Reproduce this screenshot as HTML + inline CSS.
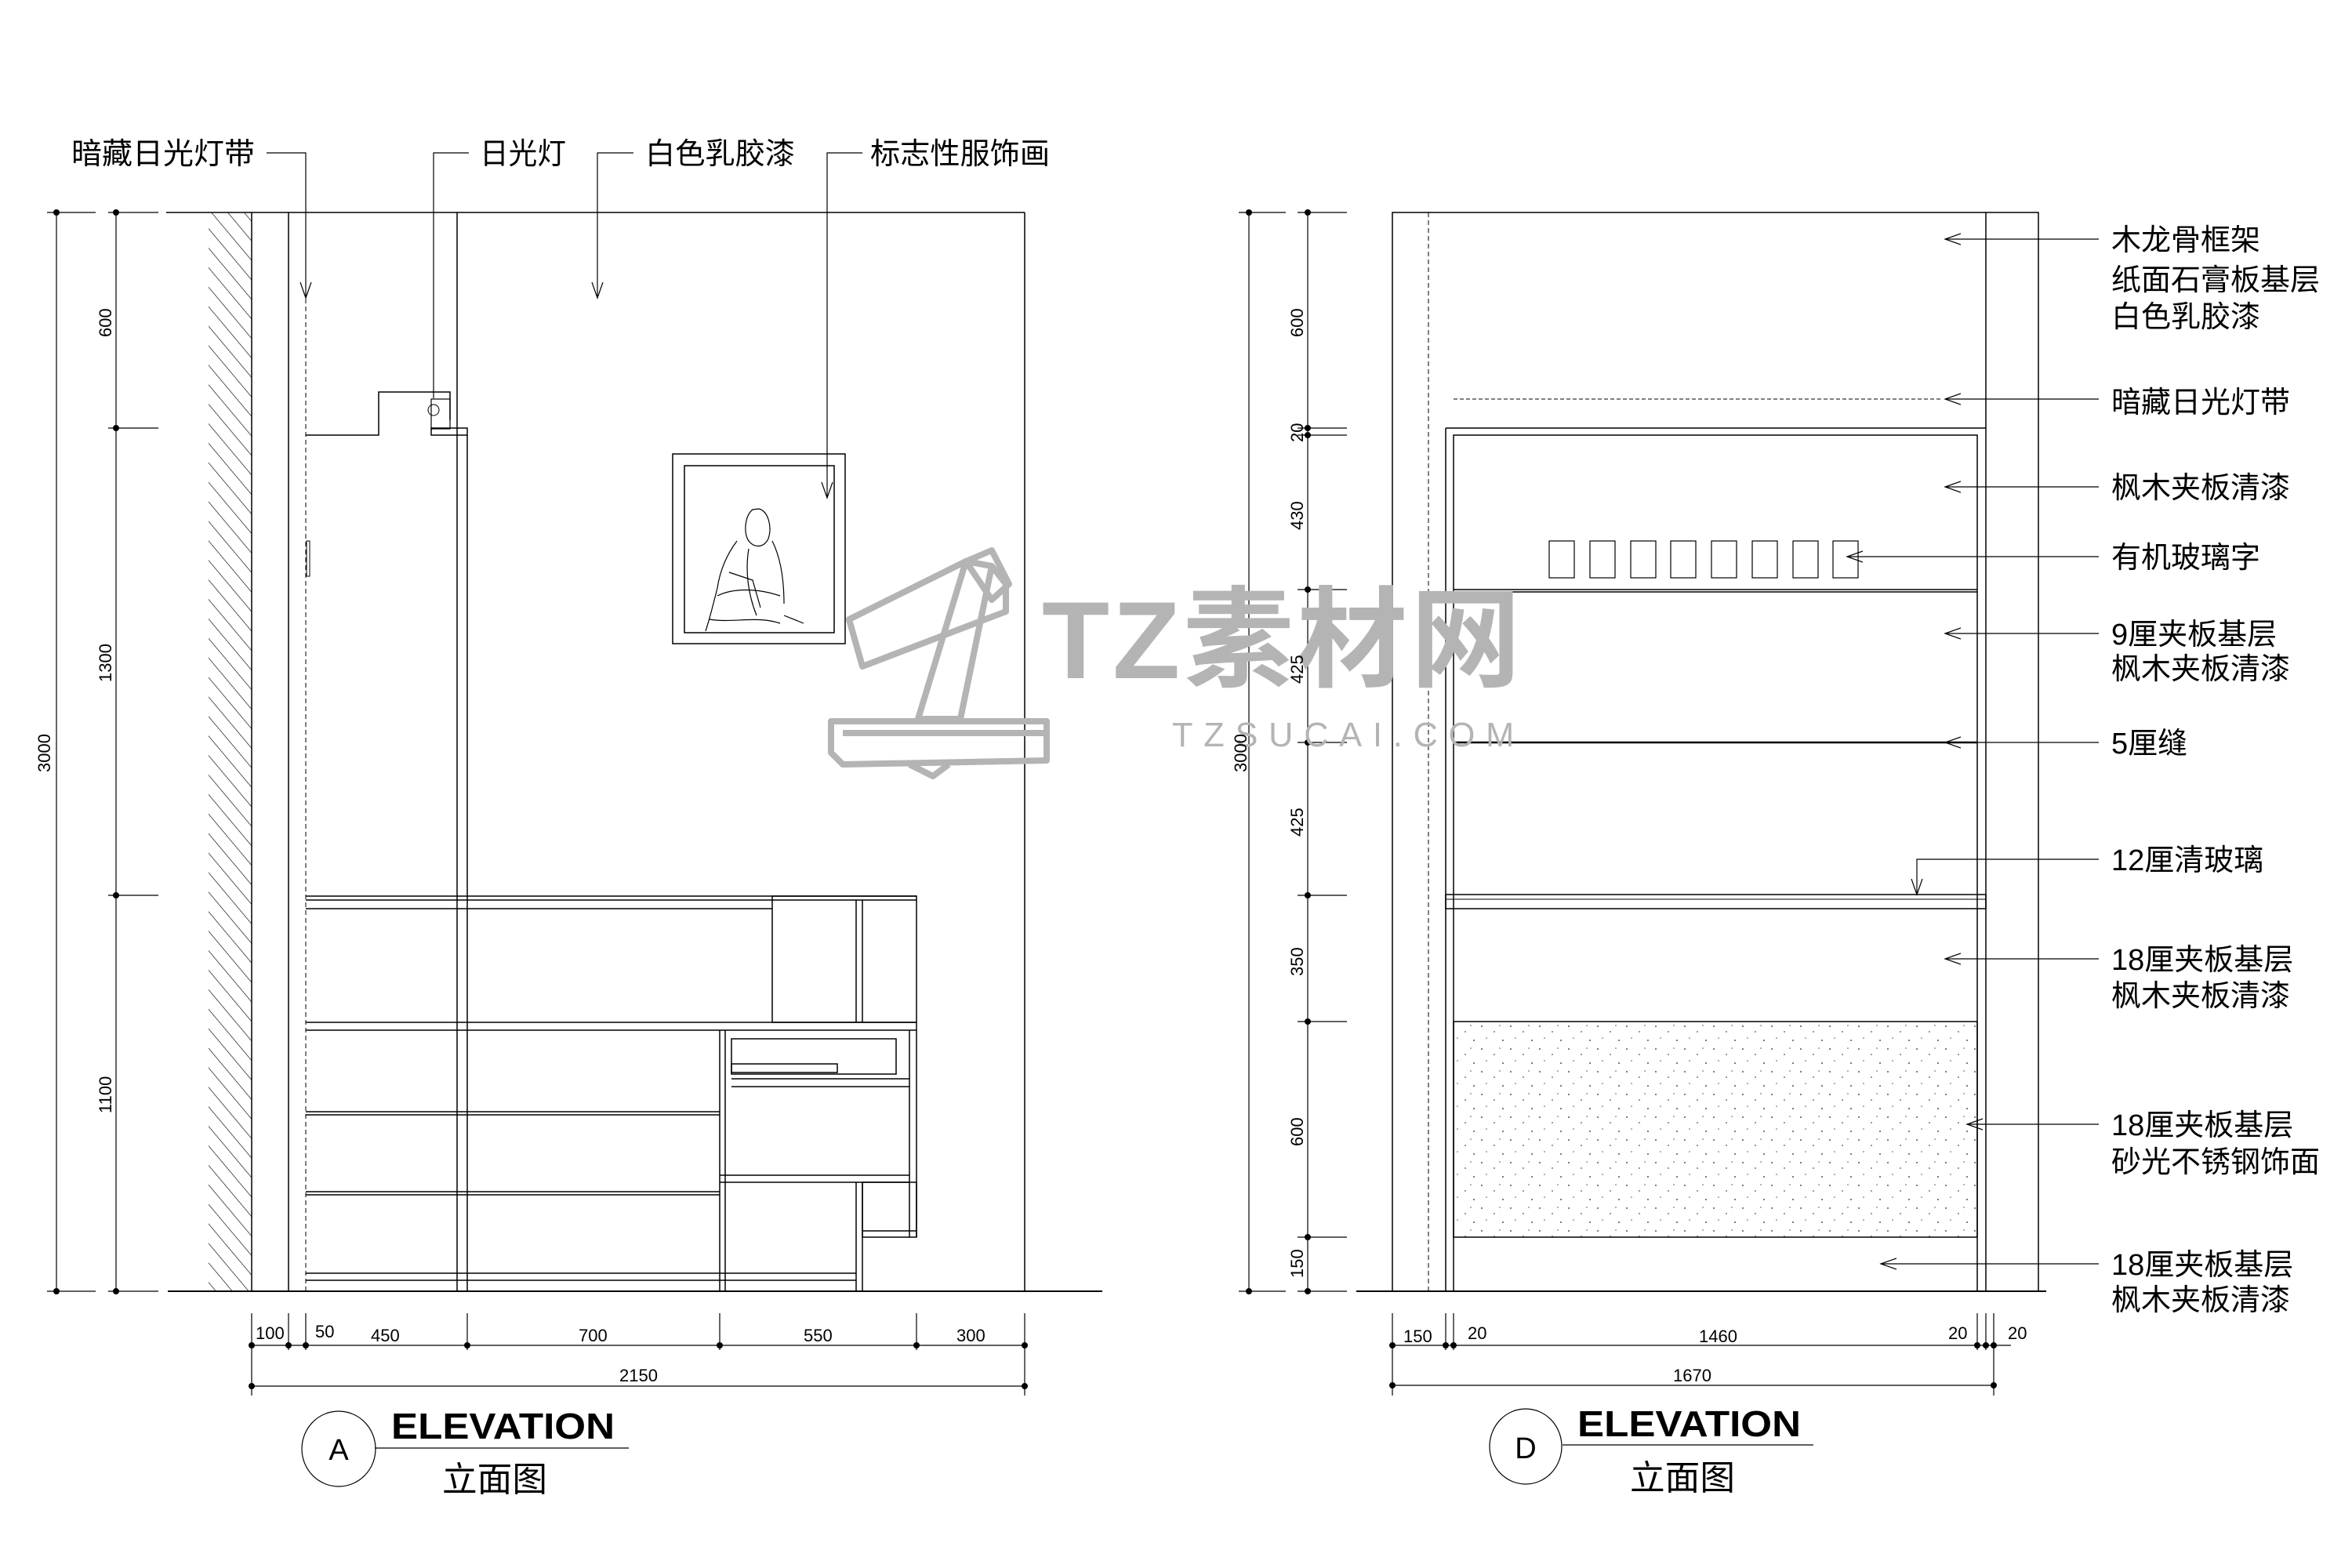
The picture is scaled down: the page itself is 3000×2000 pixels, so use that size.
<!DOCTYPE html>
<html><head><meta charset="utf-8"><style>
html,body{margin:0;padding:0;background:#fff;}
svg{display:block}
text{font-family:"Liberation Sans","Noto Sans CJK SC",sans-serif;fill:#000}
.cn{font-size:38px}
.d{font-size:22px}
</style></head><body>
<svg width="3000" height="2000" viewBox="0 0 3000 2000" xmlns="http://www.w3.org/2000/svg">
<defs>
<pattern id="hatch" width="16" height="16" patternUnits="userSpaceOnUse" patternTransform="rotate(-40)">
<line x1="0" y1="0" x2="0" y2="16" stroke="#000" stroke-width="1.3"/></pattern>
<pattern id="dots" width="37" height="29" patternUnits="userSpaceOnUse">
<circle cx="3" cy="4" r="1" fill="#555"/><circle cx="19" cy="11" r="0.9" fill="#555"/><circle cx="30" cy="22" r="1" fill="#555"/><circle cx="9" cy="19" r="0.8" fill="#555"/><circle cx="26" cy="3" r="0.8" fill="#555"/></pattern>
<marker id="ar" markerWidth="30" markerHeight="30" refX="20" refY="10" orient="auto" markerUnits="userSpaceOnUse" viewBox="0 0 30 20">
<path d="M0,3 L20,10 L0,17" fill="none" stroke="#000" stroke-width="1.2"/></marker>
</defs>
<g fill="none" stroke="#000" stroke-width="1.5">
<!-- ===== LEFT ELEVATION ===== -->
<rect x="266" y="271" width="55" height="1376" fill="url(#hatch)" stroke="none"/>
<line x1="212" y1="271" x2="1307" y2="271"/>
<line x1="321" y1="271" x2="321" y2="1647"/>
<line x1="368" y1="271" x2="368" y2="1647"/>
<line x1="390" y1="271" x2="390" y2="1647" stroke-dasharray="6,4" stroke-width="1"/>
<line x1="583" y1="271" x2="583" y2="1647"/>
<line x1="596" y1="555" x2="596" y2="1647"/>
<line x1="1307" y1="271" x2="1307" y2="1647"/>
<line x1="214" y1="1647" x2="1406" y2="1647" stroke-width="2"/>
<!-- light box -->
<polyline points="390,555 483,555 483,500 574,500 574,536"/>
<rect x="550" y="509" width="24" height="38" stroke-width="1.2"/>
<circle cx="553" cy="523" r="7" stroke-width="1"/>
<rect x="550" y="546" width="46" height="9"/>
<rect x="391" y="690" width="4" height="45" stroke-width="1"/>
<!-- picture -->
<rect x="858" y="579" width="220" height="242"/>
<rect x="873" y="594" width="191" height="213"/>
<path d="M960,650 c-10,8 -12,30 -5,40 c8,10 20,8 25,-3 c5,-15 0,-35 -12,-38 z M940,690 c-15,20 -22,40 -25,60 c-5,20 -10,40 -15,55 M985,690 c10,20 15,45 15,80 M915,760 c20,-10 50,-10 80,0 M930,730 l30,10 l10,35 M905,790 c30,5 60,-5 90,5 M1000,785 l25,10 M955,700 c-5,30 0,60 10,85" stroke-width="1.2"/>
<!-- counter -->
<line x1="390" y1="1143" x2="1169" y2="1143"/>
<line x1="390" y1="1148" x2="985" y2="1148"/>
<line x1="390" y1="1159" x2="985" y2="1159"/>
<rect x="985" y="1143" width="184" height="161"/>
<line x1="985" y1="1148" x2="1169" y2="1148"/>
<line x1="1092" y1="1148" x2="1092" y2="1304"/>
<line x1="1100" y1="1148" x2="1100" y2="1304"/>
<line x1="390" y1="1304" x2="1169" y2="1304"/>
<line x1="390" y1="1314" x2="1169" y2="1314"/>
<line x1="918" y1="1314" x2="918" y2="1647"/>
<line x1="925" y1="1314" x2="925" y2="1647"/>
<line x1="1160" y1="1314" x2="1160" y2="1578"/>
<line x1="1169" y1="1304" x2="1169" y2="1578"/>
<rect x="933" y="1325" width="210" height="45"/>
<rect x="933" y="1357" width="135" height="11"/>
<line x1="933" y1="1376" x2="1160" y2="1376"/>
<line x1="933" y1="1386" x2="1160" y2="1386"/>
<line x1="390" y1="1418" x2="918" y2="1418"/>
<line x1="390" y1="1422" x2="918" y2="1422"/>
<line x1="390" y1="1520" x2="918" y2="1520"/>
<line x1="390" y1="1524" x2="918" y2="1524"/>
<line x1="390" y1="1624" x2="1092" y2="1624"/>
<line x1="390" y1="1633" x2="1092" y2="1633"/>
<line x1="918" y1="1499" x2="1160" y2="1499"/>
<line x1="918" y1="1508" x2="1160" y2="1508"/>
<line x1="1092" y1="1508" x2="1092" y2="1647"/>
<line x1="1100" y1="1508" x2="1100" y2="1647"/>
<rect x="1100" y="1508" width="69" height="70"/>
<line x1="1100" y1="1570" x2="1169" y2="1570"/>
<!-- left vertical dims -->
<line x1="72" y1="271" x2="72" y2="1647" stroke-width="1.2"/>
<line x1="148" y1="271" x2="148" y2="1647" stroke-width="1.2"/>
<g stroke-width="1.2">
<line x1="60" y1="271" x2="122" y2="271"/><line x1="138" y1="271" x2="202" y2="271"/>
<line x1="138" y1="546" x2="202" y2="546"/><line x1="138" y1="1142" x2="202" y2="1142"/>
<line x1="60" y1="1647" x2="122" y2="1647"/><line x1="138" y1="1647" x2="202" y2="1647"/>
</g>
<!-- left horizontal dims -->
<g stroke-width="1.2">
<line x1="321" y1="1716" x2="1307" y2="1716"/>
<line x1="321" y1="1768" x2="1307" y2="1768"/>
<line x1="321" y1="1675" x2="321" y2="1780"/><line x1="368" y1="1675" x2="368" y2="1722"/>
<line x1="390" y1="1675" x2="390" y2="1722"/><line x1="596" y1="1675" x2="596" y2="1722"/>
<line x1="918" y1="1675" x2="918" y2="1722"/><line x1="1169" y1="1675" x2="1169" y2="1722"/>
<line x1="1307" y1="1675" x2="1307" y2="1780"/>
</g>
<!-- left leaders -->
<g stroke-width="1.2">
<polyline points="340,195 390,195 390,380" marker-end="url(#ar)"/>
<polyline points="598,195 553,195 553,508"/>
<polyline points="808,195 762,195 762,380" marker-end="url(#ar)"/>
<polyline points="1100,195 1055,195 1055,635" marker-end="url(#ar)"/>
</g>
<ellipse cx="432" cy="1848" rx="47" ry="48" stroke-width="1.2"/>
<line x1="478" y1="1847" x2="802" y2="1847" stroke-width="1.2"/>

<!-- ===== RIGHT ELEVATION ===== -->
<rect x="1776" y="271" width="824" height="1376"/>
<line x1="1822" y1="271" x2="1822" y2="1647" stroke-dasharray="6,4" stroke-width="1"/>
<line x1="2533" y1="271" x2="2533" y2="1647"/>
<line x1="1854" y1="509" x2="2476" y2="509" stroke-dasharray="5,3" stroke-width="1"/>
<line x1="1844" y1="546" x2="2533" y2="546"/>
<line x1="1844" y1="546" x2="1844" y2="1647"/>
<rect x="1854" y="555" width="668" height="1092"/>
<line x1="1854" y1="752" x2="2522" y2="752"/><line x1="1854" y1="755" x2="2522" y2="755"/>
<line x1="1854" y1="947" x2="2522" y2="947" stroke-width="2.5"/>
<rect x="1844" y="1141" width="689" height="18"/>
<line x1="1844" y1="1147" x2="2533" y2="1147" stroke-width="1"/>
<rect x="1854" y="1303" width="668" height="275" fill="url(#dots)"/>
<line x1="1730" y1="1647" x2="2610" y2="1647" stroke-width="2"/>
<g stroke-width="1.2">
<rect x="1976" y="690" width="32" height="47"/><rect x="2028" y="690" width="32" height="47"/>
<rect x="2080" y="690" width="32" height="47"/><rect x="2131" y="690" width="32" height="47"/>
<rect x="2183" y="690" width="32" height="47"/><rect x="2235" y="690" width="32" height="47"/>
<rect x="2287" y="690" width="32" height="47"/><rect x="2338" y="690" width="32" height="47"/>
</g>
<!-- right vertical dims -->
<g stroke-width="1.2">
<line x1="1593" y1="271" x2="1593" y2="1647"/><line x1="1668" y1="271" x2="1668" y2="1647"/>
<line x1="1580" y1="271" x2="1640" y2="271"/><line x1="1655" y1="271" x2="1718" y2="271"/>
<line x1="1655" y1="546" x2="1718" y2="546"/><line x1="1655" y1="555" x2="1718" y2="555"/>
<line x1="1655" y1="752" x2="1718" y2="752"/><line x1="1655" y1="947" x2="1718" y2="947"/>
<line x1="1655" y1="1142" x2="1718" y2="1142"/><line x1="1655" y1="1303" x2="1718" y2="1303"/>
<line x1="1655" y1="1578" x2="1718" y2="1578"/>
<line x1="1580" y1="1647" x2="1640" y2="1647"/><line x1="1655" y1="1647" x2="1718" y2="1647"/>
</g>
<!-- right horizontal dims -->
<g stroke-width="1.2">
<line x1="1776" y1="1716" x2="2565" y2="1716"/>
<line x1="1776" y1="1767" x2="2543" y2="1767"/>
<line x1="1776" y1="1675" x2="1776" y2="1780"/><line x1="1844" y1="1675" x2="1844" y2="1722"/>
<line x1="1854" y1="1675" x2="1854" y2="1722"/><line x1="2522" y1="1675" x2="2522" y2="1722"/>
<line x1="2533" y1="1675" x2="2533" y2="1722"/><line x1="2543" y1="1675" x2="2543" y2="1780"/>
</g>
<!-- right leaders -->
<g stroke-width="1.2">
<line x1="2677" y1="305" x2="2481" y2="305" marker-end="url(#ar)"/>
<line x1="2677" y1="509" x2="2481" y2="509" marker-end="url(#ar)"/>
<line x1="2677" y1="621" x2="2481" y2="621" marker-end="url(#ar)"/>
<line x1="2677" y1="710" x2="2356" y2="710" marker-end="url(#ar)"/>
<line x1="2677" y1="808" x2="2481" y2="808" marker-end="url(#ar)"/>
<line x1="2677" y1="947" x2="2481" y2="947" marker-end="url(#ar)"/>
<polyline points="2677,1096 2445,1096 2445,1141" marker-end="url(#ar)"/>
<line x1="2677" y1="1223" x2="2481" y2="1223" marker-end="url(#ar)"/>
<line x1="2677" y1="1434" x2="2509" y2="1434" marker-end="url(#ar)"/>
<line x1="2677" y1="1612" x2="2399" y2="1612" marker-end="url(#ar)"/>
</g>
<ellipse cx="1946" cy="1845" rx="46" ry="48" stroke-width="1.2"/>
<line x1="1993" y1="1843" x2="2313" y2="1843" stroke-width="1.2"/>
</g>
<!-- dim ticks dots -->
<g fill="#000">
<circle cx="72" cy="271" r="4"/><circle cx="148" cy="271" r="4"/><circle cx="148" cy="546" r="4"/><circle cx="148" cy="1142" r="4"/><circle cx="72" cy="1647" r="4"/><circle cx="148" cy="1647" r="4"/>
<circle cx="321" cy="1716" r="4"/><circle cx="368" cy="1716" r="4"/><circle cx="390" cy="1716" r="4"/><circle cx="596" cy="1716" r="4"/><circle cx="918" cy="1716" r="4"/><circle cx="1169" cy="1716" r="4"/><circle cx="1307" cy="1716" r="4"/>
<circle cx="321" cy="1768" r="4"/><circle cx="1307" cy="1768" r="4"/>
<circle cx="1593" cy="271" r="4"/><circle cx="1668" cy="271" r="4"/><circle cx="1668" cy="546" r="4"/><circle cx="1668" cy="555" r="4"/><circle cx="1668" cy="752" r="4"/><circle cx="1668" cy="947" r="4"/><circle cx="1668" cy="1142" r="4"/><circle cx="1668" cy="1303" r="4"/><circle cx="1668" cy="1578" r="4"/><circle cx="1593" cy="1647" r="4"/><circle cx="1668" cy="1647" r="4"/>
<circle cx="1776" cy="1716" r="4"/><circle cx="1844" cy="1716" r="4"/><circle cx="1854" cy="1716" r="4"/><circle cx="2522" cy="1716" r="4"/><circle cx="2533" cy="1716" r="4"/><circle cx="2543" cy="1716" r="4"/>
<circle cx="1776" cy="1767" r="4"/><circle cx="2543" cy="1767" r="4"/>
</g>
<!-- watermark -->
<g fill="none" stroke="#b4b4b4" stroke-width="8" stroke-linejoin="round">
<polygon points="1060,920 1335,920 1335,970 1075,975 1060,960"/>
<line x1="1075" y1="935" x2="1335" y2="935"/>
<polygon points="1171,917 1232,716 1265,722 1225,917"/>
<polygon points="1083,790 1232,716 1265,722 1283,745 1283,780 1100,850"/>
<polygon points="1232,716 1265,702 1287,745 1265,765"/>
<polyline points="1160,975 1190,990 1210,975"/>
</g>
<text x="1329" y="865" style="font-size:140px;font-weight:bold;fill:#b4b4b4;letter-spacing:4px" textLength="615" lengthAdjust="spacingAndGlyphs">TZ素材网</text>
<text x="1495" y="952" style="font-size:44px;fill:#b4b4b4;letter-spacing:14px" textLength="450" lengthAdjust="spacingAndGlyphs">TZSUCAI.COM</text>

<!-- left labels -->
<g class="cn">
<text x="91" y="209" textLength="234" lengthAdjust="spacingAndGlyphs">暗藏日光灯带</text>
<text x="612" y="209" textLength="110" lengthAdjust="spacingAndGlyphs">日光灯</text>
<text x="823" y="209" textLength="191" lengthAdjust="spacingAndGlyphs">白色乳胶漆</text>
<text x="1110" y="209" textLength="229" lengthAdjust="spacingAndGlyphs">标志性服饰画</text>
</g>
<g class="d">
<text transform="translate(142,430) rotate(-90)">600</text>
<text transform="translate(142,870) rotate(-90)">1300</text>
<text transform="translate(64,985) rotate(-90)">3000</text>
<text transform="translate(142,1420) rotate(-90)">1100</text>
<text x="326" y="1708">100</text><text x="402" y="1706">50</text>
<text x="473" y="1711">450</text><text x="738" y="1711">700</text>
<text x="1025" y="1711">550</text><text x="1220" y="1711">300</text>
<text x="790" y="1762">2150</text>
</g>
<text x="432" y="1862" text-anchor="middle" style="font-size:38px">A</text>
<text x="499" y="1835" style="font-size:46px;font-weight:bold" textLength="285" lengthAdjust="spacingAndGlyphs">ELEVATION</text>
<text x="564" y="1902" style="font-size:44px" textLength="134" lengthAdjust="spacingAndGlyphs">立面图</text>

<!-- right labels -->
<g class="cn">
<text x="2693" y="319">木龙骨框架</text>
<text x="2693" y="370">纸面石膏板基层</text>
<text x="2693" y="417">白色乳胶漆</text>
<text x="2693" y="526">暗藏日光灯带</text>
<text x="2693" y="635">枫木夹板清漆</text>
<text x="2693" y="724">有机玻璃字</text>
<text x="2693" y="822">9厘夹板基层</text>
<text x="2693" y="866">枫木夹板清漆</text>
<text x="2693" y="961">5厘缝</text>
<text x="2693" y="1110">12厘清玻璃</text>
<text x="2693" y="1237">18厘夹板基层</text>
<text x="2693" y="1283">枫木夹板清漆</text>
<text x="2693" y="1448">18厘夹板基层</text>
<text x="2693" y="1495">砂光不锈钢饰面</text>
<text x="2693" y="1626">18厘夹板基层</text>
<text x="2693" y="1671">枫木夹板清漆</text>
</g>
<g class="d">
<text transform="translate(1662,430) rotate(-90)">600</text>
<text transform="translate(1662,564) rotate(-90)">20</text>
<text transform="translate(1662,676) rotate(-90)">430</text>
<text transform="translate(1662,872) rotate(-90)">425</text>
<text transform="translate(1590,985) rotate(-90)">3000</text>
<text transform="translate(1662,1067) rotate(-90)">425</text>
<text transform="translate(1662,1245) rotate(-90)">350</text>
<text transform="translate(1662,1462) rotate(-90)">600</text>
<text transform="translate(1662,1630) rotate(-90)">150</text>
<text x="1790" y="1712">150</text><text x="1872" y="1708">20</text>
<text x="2167" y="1712">1460</text><text x="2485" y="1708">20</text><text x="2561" y="1708">20</text>
<text x="2134" y="1762">1670</text>
</g>
<text x="1946" y="1860" text-anchor="middle" style="font-size:38px">D</text>
<text x="2012" y="1832" style="font-size:46px;font-weight:bold" textLength="285" lengthAdjust="spacingAndGlyphs">ELEVATION</text>
<text x="2079" y="1900" style="font-size:44px" textLength="134" lengthAdjust="spacingAndGlyphs">立面图</text>
</svg>
</body></html>
